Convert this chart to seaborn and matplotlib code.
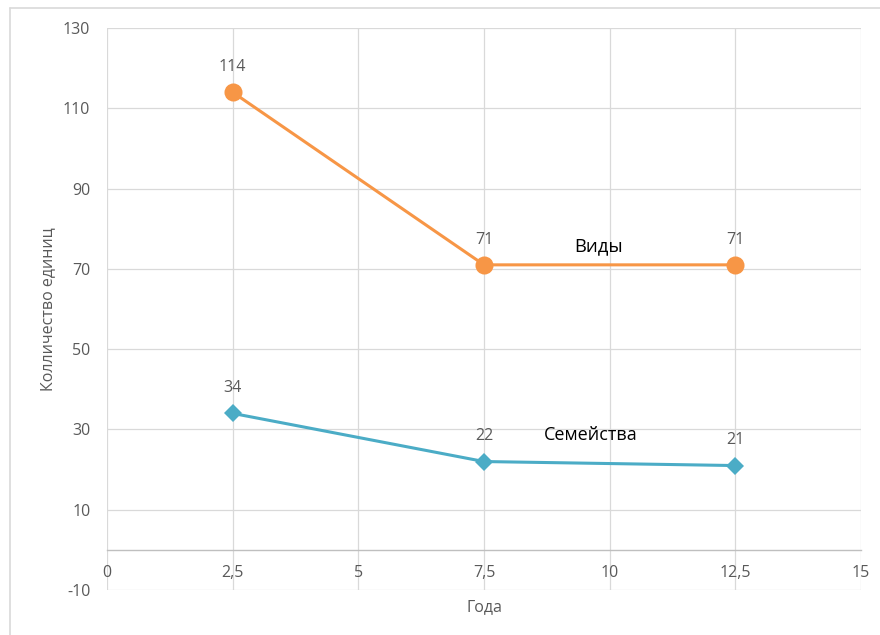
import matplotlib
matplotlib.use("Agg")
import matplotlib.pyplot as plt
import matplotlib.ticker as mticker
from matplotlib.lines import Line2D
import seaborn as sns
import pandas as pd

# Data
years = [2.5, 7.5, 12.5]
species = [114, 71, 71]
families = [34, 22, 21]
x_ticks = [0, 2.5, 5, 7.5, 10, 12.5, 15]
y_ticks = [-10, 10, 30, 50, 70, 90, 110, 130]
series_names = ["Виды", "Семейства"]

sns.set_theme(style="white")
plt.rcParams["font.family"] = ["Open Sans", "DejaVu Sans"]
plt.rcParams["axes.unicode_minus"] = False

ORANGE = "#F79646"
TEAL = "#4BACC6"
GRID = "#D9D9D9"
TXT = "#595959"
FS = 11.5

fig = plt.figure(figsize=(8.8, 6.35), dpi=100)
ax = fig.add_axes([107 / 880, 1 - 590 / 635, (861 - 107) / 880, (590 - 28) / 635])

df_s = pd.DataFrame({"x": years, "y": species})
df_f = pd.DataFrame({"x": years, "y": families})

sns.lineplot(data=df_s, x="x", y="y", ax=ax, color=ORANGE, linewidth=2.2,
             marker="o", markersize=13, markeredgewidth=0, zorder=3)
sns.lineplot(data=df_f, x="x", y="y", ax=ax, color=TEAL, linewidth=2.2,
             marker="D", markersize=9.5, markeredgewidth=0, zorder=3)

ax.set_xlim(0, 15)
ax.set_ylim(-10, 130)
ax.set_xticks(x_ticks)
ax.set_yticks(y_ticks)
ax.xaxis.set_major_formatter(mticker.FuncFormatter(
    lambda v, p: (f"{v:g}").replace(".", ",")))
ax.grid(True, color=GRID, linewidth=0.9)
ax.set_axisbelow(True)

for side in ["top", "right", "left"]:
    ax.spines[side].set_visible(False)
ax.spines["bottom"].set_position(("data", 0))
ax.spines["bottom"].set_color("#BFBFBF")
ax.spines["bottom"].set_linewidth(1.0)
ax.tick_params(axis="both", length=0, labelsize=FS, labelcolor=TXT)
ax.tick_params(axis="x", pad=11)
ax.tick_params(axis="y", pad=12)

ax.set_xlabel("Года", fontsize=FS, color=TXT)
ax.set_ylabel("Колличество единиц", fontsize=FS, color=TXT)
ax.xaxis.set_label_coords(0.5, -0.017)
ax.yaxis.set_label_coords(-0.068, 0.5)

# value labels above each point
for xv, yv in zip(years, species):
    ax.annotate(str(yv), (xv, yv), xytext=(0, 18), textcoords="offset points",
                ha="center", va="center", fontsize=FS, color=TXT)
for xv, yv in zip(years, families):
    ax.annotate(str(yv), (xv, yv), xytext=(0, 18.5), textcoords="offset points",
                ha="center", va="center", fontsize=FS, color=TXT)

# series names placed next to their lines
ax.text(9.77, 75.7, series_names[0], ha="center", va="center", fontsize=13.3, color="black")
ax.text(9.63, 28.6, series_names[1], ha="center", va="center", fontsize=13.0, color="black")

# thin chart-area frame along the top and left
fig.add_artist(Line2D([10 / 880, 10 / 880], [0, 1 - 8 / 635], color="#D9D9D9", linewidth=1.2))
fig.add_artist(Line2D([10 / 880, 1], [1 - 8 / 635, 1 - 8 / 635], color="#D9D9D9", linewidth=1.2))

fig.savefig("out.png", dpi=100, facecolor="white")
